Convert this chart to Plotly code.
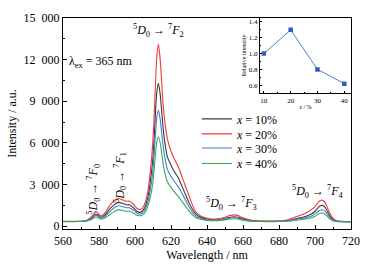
import plotly.graph_objects as go

wavelength = [560, 565, 570, 573, 576, 578, 579, 581, 583, 586, 589, 591, 593, 595, 597,
              599, 601, 603, 605, 607, 609, 610, 611, 612, 613, 614, 615, 616, 618, 620,
              622, 624, 626, 628, 630, 632, 634, 637, 640, 645, 650, 653, 655, 657, 660,
              665, 670, 675, 680, 685, 690, 695, 698, 700, 702, 703, 704, 705, 706, 707,
              708, 710, 712, 715, 720]

x10 = [340, 340, 350, 400, 600, 880, 850, 650, 780, 1250, 1600, 1720, 1650, 1550, 1550,
       1350, 1080, 1000, 1250, 2000, 3700, 5000, 7200, 9500, 10300, 9500, 8000, 6600, 5000, 4400,
       3900, 3500, 2900, 2300, 1700, 1200, 850, 620, 520, 470, 560, 650, 680, 650, 520,
       390, 360, 350, 360, 410, 560, 720, 880, 1080, 1370, 1470, 1500, 1440, 1280, 1050,
       800, 480, 370, 340, 320]
x20 = [350, 350, 360, 420, 700, 1050, 1000, 750, 900, 1500, 1900, 2000, 1900, 1800, 1800,
       1600, 1300, 1200, 1500, 2400, 4600, 6300, 9000, 12000, 13100, 12000, 10000, 8200, 6300, 5400,
       4800, 4300, 3600, 2900, 2200, 1500, 1000, 700, 580, 520, 650, 780, 820, 780, 600,
       420, 380, 370, 380, 470, 700, 950, 1200, 1420, 1750, 1850, 1880, 1800, 1600, 1300,
       1000, 580, 400, 350, 330]
x30 = [340, 340, 345, 390, 550, 780, 760, 580, 680, 1050, 1380, 1480, 1420, 1330, 1330,
       1170, 950, 880, 1080, 1700, 3000, 4100, 5900, 7700, 8350, 7700, 6500, 5400, 4100, 3600,
       3200, 2850, 2400, 1900, 1400, 1000, 720, 540, 460, 430, 510, 590, 610, 590, 480,
       370, 350, 345, 350, 390, 500, 620, 740, 890, 1100, 1170, 1190, 1140, 1020, 850,
       670, 430, 350, 330, 320]
x40 = [330, 330, 335, 370, 480, 650, 640, 500, 570, 850, 1100, 1180, 1140, 1080, 1080,
       960, 800, 760, 900, 1400, 2400, 3200, 4600, 6000, 6450, 6000, 5100, 4200, 3200, 2800,
       2450, 2150, 1800, 1450, 1100, 800, 600, 480, 420, 400, 460, 520, 540, 520, 430,
       350, 335, 330, 335, 360, 430, 520, 610, 720, 880, 930, 950, 910, 820, 690,
       560, 390, 340, 320, 310]

series_names = ["<i>x</i> = 10%", "<i>x</i> = 20%", "<i>x</i> = 30%", "<i>x</i> = 40%"]
series_colors = ["#3a3a3a", "#f2383a", "#3f7dd6", "#3aa85a"]

y_tickvals = [0, 3000, 6000, 9000, 12000, 15000]
y_ticktext = ["0", "3\u2002000", "6\u2002000", "9\u2002000", "12\u2002000", "15\u2002000"]

inset_x = [10, 20, 30, 40]
inset_y = [1.0, 1.3, 0.8, 0.62]

FONT = "Liberation Serif, Times New Roman, serif"

legend_ids = ["legend", "legend2", "legend3", "legend4"]
legend_rows = [0.522, 0.451, 0.384, 0.3105]

fig = go.Figure()
for vals, name, col, lg in zip([x10, x20, x30, x40], series_names, series_colors, legend_ids):
    fig.add_trace(go.Scatter(x=wavelength, y=vals, mode="lines", name=name, legend=lg,
                             line=dict(color=col, width=1.1, shape="spline", smoothing=0.6),
                             xaxis="x", yaxis="y"))

fig.add_trace(go.Scatter(x=inset_x, y=inset_y, mode="lines+markers", showlegend=False,
                         line=dict(color="#4a7fd6", width=1),
                         marker=dict(symbol="square", size=4.5, color="#2f5fb8"),
                         xaxis="x2", yaxis="y2"))

axis_common = dict(showline=True, linecolor="black", mirror=True, ticks="inside",
                   tickcolor="black", showgrid=False, zeroline=False)

ann_font = dict(family=FONT, size=12, color="black")
def trans(hi):
    return f"<sup>5</sup><i>D</i><sub>0</sub> \u2192 <sup>7</sup><i>F</i><sub>{hi}</sub>"

annotations = [
    dict(x=581, y=11800, text="\u03bb<sub>ex</sub> = 365 nm", showarrow=False, font=ann_font),
    dict(x=613.3, y=14100, text=trans(2), showarrow=False, font=ann_font),
    dict(x=577.2, y=2700, text=trans(0), showarrow=False, font=ann_font, textangle=-90),
    dict(x=591.8, y=3500, text=trans(1), showarrow=False, font=ann_font, textangle=-90),
    dict(x=653.8, y=1670, text=trans(3), showarrow=False, font=ann_font),
    dict(x=701.7, y=2500, text=trans(4), showarrow=False, font=ann_font),
]

legend_layouts = {}
for lg, yy in zip(legend_ids, legend_rows):
    legend_layouts[lg] = dict(x=0.465, y=yy, xanchor="left", yanchor="middle",
                              bgcolor="rgba(0,0,0,0)", font=dict(family=FONT, size=12),
                              itemwidth=30)

fig.update_layout(
    width=371, height=271,
    margin=dict(l=58, r=16, t=11, b=41),
    paper_bgcolor="white", plot_bgcolor="white",
    font=dict(family=FONT, size=12, color="black"),
    xaxis=dict(range=[560, 720], dtick=20, ticklen=4, linewidth=1.2,
               minor=dict(ticks="inside", ticklen=2, dtick=10, tickcolor="black"),
               title=dict(text="Wavelength / nm", standoff=4, font=dict(size=12)),
               **axis_common),
    yaxis=dict(range=[-200, 15000], tickvals=y_tickvals, ticktext=y_ticktext, ticklen=4,
               linewidth=1.2,
               minor=dict(ticks="inside", ticklen=2, dtick=1500, tickcolor="black"),
               title=dict(text="Intensity / a.u.", standoff=4, font=dict(size=12)),
               **axis_common),
    xaxis2=dict(domain=[0.6835, 1.0], anchor="y2", range=[8.5, 42.5], dtick=10, ticklen=2,
                linewidth=1, tickfont=dict(size=7),
                minor=dict(ticks="inside", ticklen=1, dtick=5, tickcolor="black"),
                title=dict(text="<i>x</i> / %", standoff=1, font=dict(size=6)),
                **axis_common),
    yaxis2=dict(domain=[0.644, 1.0], anchor="x2", range=[0.5, 1.45], dtick=0.2, ticklen=2,
                linewidth=1, tickfont=dict(size=7), tickformat=".1f",
                minor=dict(ticks="inside", ticklen=1, dtick=0.1, tickcolor="black"),
                title=dict(text="Relative intensity", standoff=1, font=dict(size=6)),
                **axis_common),
    annotations=annotations,
    **legend_layouts,
)

fig.write_html("out.html", config={"displayModeBar": False},
               post_script="document.body.style.margin='0';")
